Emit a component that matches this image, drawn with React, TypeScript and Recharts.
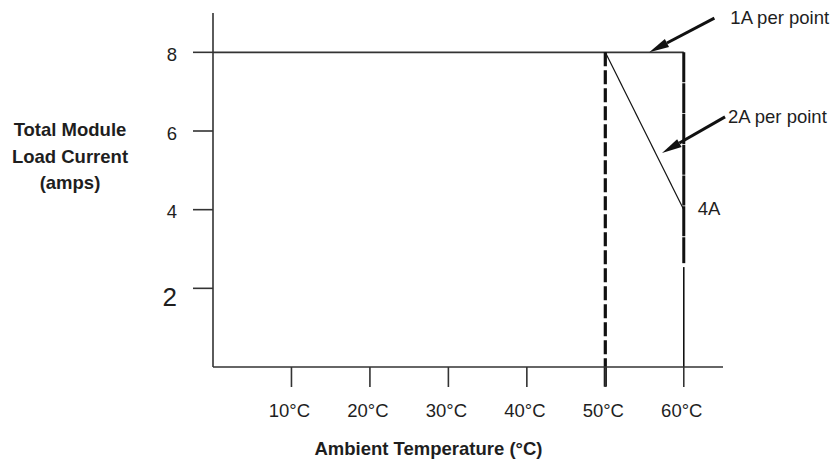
import React from "react";
import { LineChart, Line, XAxis, YAxis, ReferenceLine, ReferenceDot, Label } from "recharts";

const FONT = '"Liberation Sans", Arial, Helvetica, sans-serif';
const INK = "#1e1e1e";
const AXIS = "#333";

const temperatureTicks = [10, 20, 30, 40, 50, 60];
const currentTicks = [2, 4, 6, 8];

// derating curves as (°C, amps) pairs
const fullLoad = [
  { temp: 0, amps: 8 },
  { temp: 60, amps: 8 },
];
const derating = [
  { temp: 50, amps: 8 },
  { temp: 60, amps: 4 },
];
const limit50 = [
  { temp: 50, amps: 8 },
  { temp: 50, amps: 0 },
];
const limit60Upper = [
  { temp: 60, amps: 8 },
  { temp: 60, amps: 2.64 },
];
const limit60Lower = [
  { temp: 60, amps: 2.54 },
  { temp: 60, amps: 0 },
];

// the 50°C tick is drawn heavy, continuing the dashed limit below the axis
const tick50 = [
  { x: 50, y: 0 },
  { x: 50, y: -0.5 },
];

// callouts: tail first, then the tip of the arrow
const callout1A = [
  { x: 63.9, y: 8.87 },
  { x: 55.6, y: 8.0 },
];
const callout2A = [
  { x: 65.26, y: 6.36 },
  { x: 57.23, y: 5.44 },
];
const point4A = { x: 60, y: 4 };

function arrowShape(text: string, textDx: number) {
  return (p: any) => {
    const { x1, y1, x2, y2 } = p;
    const dx = x2 - x1;
    const dy = y2 - y1;
    const len = Math.hypot(dx, dy) || 1;
    const ux = dx / len;
    const uy = dy / len;
    const head = 20;
    const half = 4.5;
    const bx = x2 - ux * head;
    const by = y2 - uy * head;
    return (
      <g>
        <line x1={x1} y1={y1} x2={bx} y2={by} stroke="#111" strokeWidth={3} />
        <polygon
          points={`${x2},${y2} ${bx - uy * half},${by + ux * half} ${bx + uy * half},${by - ux * half}`}
          fill="#111"
        />
        <text x={x1 + textDx} y={y1 + 6} fill={INK} fontFamily={FONT} fontSize={18.5}>
          {text}
        </text>
      </g>
    );
  };
}

function YTick({ x, y, payload }: any) {
  const big = payload.value === 2;
  return (
    <text
      x={x}
      y={y + (big ? 18 : 8.5)}
      textAnchor="end"
      fill={INK}
      fontFamily={FONT}
      fontSize={big ? 26 : 18.5}
    >
      {payload.value}
    </text>
  );
}

function XTick({ x, y, payload }: any) {
  return (
    <text x={x - 2} y={y + 30} textAnchor="middle" fill={INK} fontFamily={FONT} fontSize={18.5}>
      {`${payload.value}°C`}
    </text>
  );
}

function YTitle() {
  return (
    <text textAnchor="middle" fill={INK} fontFamily={FONT} fontSize={18.5} fontWeight="bold">
      <tspan x={70} y={136}>Total Module</tspan>
      <tspan x={70} y={162.5}>Load Current</tspan>
      <tspan x={70} y={189}>(amps)</tspan>
    </text>
  );
}

function XTitle() {
  return (
    <text x={428.5} y={455} textAnchor="middle" fill={INK} fontFamily={FONT} fontSize={18.5} fontWeight="bold">
      Ambient Temperature (°C)
    </text>
  );
}

export default function App() {
  return (
    <div style={{ position: "absolute", left: 0, top: 0, background: "#fff" }}>
      <LineChart width={833} height={465} margin={{ top: 13, right: 110, bottom: 0, left: 0 }}>
        <XAxis
          dataKey="temp"
          type="number"
          domain={[0, 65]}
          ticks={temperatureTicks}
          tickSize={20}
          tickMargin={0}
          height={98}
          axisLine={{ stroke: AXIS, strokeWidth: 1.6 }}
          tickLine={{ stroke: AXIS, strokeWidth: 1.6 }}
          tick={<XTick />}
          allowDataOverflow
        >
          <Label content={<XTitle />} />
        </XAxis>
        <YAxis
          type="number"
          domain={[0, 9]}
          ticks={currentTicks}
          tickSize={20}
          tickMargin={16}
          width={213}
          axisLine={{ stroke: AXIS, strokeWidth: 1.6 }}
          tickLine={{ stroke: AXIS, strokeWidth: 1.6 }}
          tick={<YTick />}
          allowDataOverflow
        >
          <Label content={<YTitle />} />
        </YAxis>

        <Line data={fullLoad} dataKey="amps" type="linear" stroke={AXIS} strokeWidth={1.6} dot={false} activeDot={false} isAnimationActive={false} />
        <Line data={derating} dataKey="amps" type="linear" stroke="#111" strokeWidth={1.2} dot={false} activeDot={false} isAnimationActive={false} />
        <Line data={limit50} dataKey="amps" type="linear" stroke="#111" strokeWidth={3.2} strokeDasharray="14 4" dot={false} activeDot={false} isAnimationActive={false} />
        <Line data={limit60Upper} dataKey="amps" type="linear" stroke="#111" strokeWidth={3} strokeDasharray="30 0.8" dot={false} activeDot={false} isAnimationActive={false} />
        <Line data={limit60Lower} dataKey="amps" type="linear" stroke="#111" strokeWidth={1.6} dot={false} activeDot={false} isAnimationActive={false} />

        <ReferenceLine segment={tick50} ifOverflow="visible" stroke="#111" strokeWidth={3.2} />
        <ReferenceLine
          segment={callout1A}
          ifOverflow="visible"
          shape={arrowShape("1A per point", 16)}
        />
        <ReferenceLine
          segment={callout2A}
          ifOverflow="visible"
          shape={arrowShape("2A per point", 3)}
        />
        <ReferenceDot
          x={point4A.x}
          y={point4A.y}
          ifOverflow="visible"
          shape={(p: any) => (
            <text x={p.cx + 14} y={p.cy + 5} fill={INK} fontFamily={FONT} fontSize={18.5}>
              4A
            </text>
          )}
        />
      </LineChart>
    </div>
  );
}
